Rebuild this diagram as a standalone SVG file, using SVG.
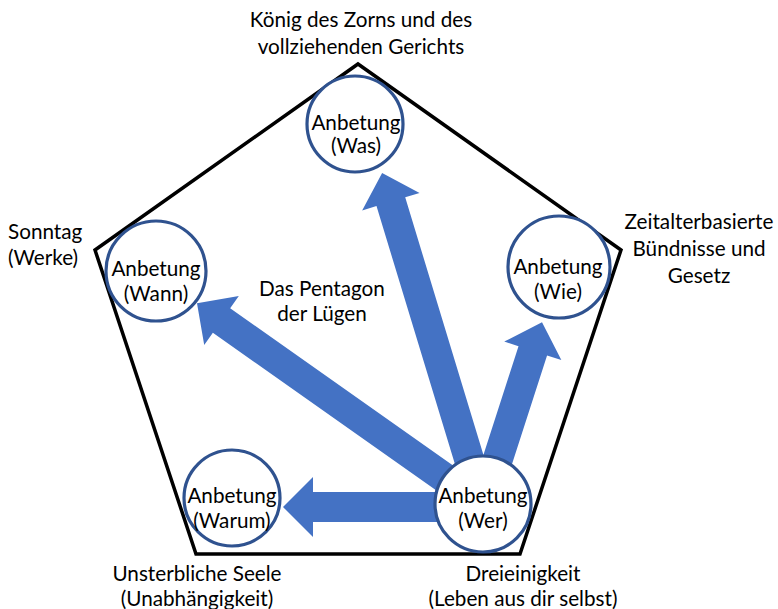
<svg xmlns="http://www.w3.org/2000/svg" width="778" height="609" viewBox="0 0 778 609">
  <style>
    .lbl { font-family: Lato, "Liberation Sans", sans-serif; font-size: 20.7px; fill: #000; }
    .mid { text-anchor: middle; }
    .node circle { fill: #fff; stroke: #2F528F; stroke-width: 3.2; }
    .arrow { fill: #4472C4; }
    .frame { fill: none; stroke: #000; stroke-width: 3.5; stroke-linejoin: miter; }
  </style>

  <!-- outer pentagon -->
  <polygon class="frame" points="358,64 621,250 520,554 196,554 95,250"/>

  <!-- corner captions -->
  <text class="lbl mid" x="361" y="27">König des Zorns und des</text>
  <text class="lbl mid" x="361" y="54">vollziehenden Gerichts</text>
  <text class="lbl" x="8" y="239">Sonntag</text>
  <text class="lbl" x="8" y="265">(Werke)</text>
  <text class="lbl mid" x="699" y="229">Zeitalterbasierte</text>
  <text class="lbl mid" x="699" y="256">Bündnisse und</text>
  <text class="lbl mid" x="699" y="283">Gesetz</text>
  <text class="lbl mid" x="197" y="581">Unsterbliche Seele</text>
  <text class="lbl mid" x="197" y="606">(Unabhängigkeit)</text>
  <text class="lbl mid" x="523" y="581">Dreieinigkeit</text>
  <text class="lbl mid" x="523" y="606">(Leben aus dir selbst)</text>
  <text class="lbl mid" x="322" y="296">Das Pentagon</text>
  <text class="lbl mid" x="322" y="321">der Lügen</text>

  <!-- connectors: block arrows from the centre node -->
  <g id="connectors">
    <polygon class="arrow" transform="translate(483,507) rotate(180)" points="0,-15 170,-15 170,-30 200,0 170,30 170,15 0,15"/>
    <polygon class="arrow" transform="translate(483,505) rotate(215.2)" points="0,-15 320,-15 320,-30 350,0 320,30 320,15 0,15"/>
    <polygon class="arrow" transform="translate(483,505) rotate(253.1)" points="0,-15 317,-15 317,-30 347,0 317,30 317,15 0,15"/>
    <polygon class="arrow" transform="translate(483,505) rotate(287.9)" points="0,-15 162,-15 162,-30 192,0 162,30 162,15 0,15"/>
  </g>

  <g id="was" class="node">
    <circle cx="355" cy="124" r="48"/>
    <text class="lbl mid" x="356" y="130">Anbetung</text>
    <text class="lbl mid" x="356" y="153">(Was)</text>
  </g>
  <g id="wann" class="node">
    <circle cx="156" cy="271" r="50"/>
    <text class="lbl mid" x="156" y="276">Anbetung</text>
    <text class="lbl mid" x="156" y="301">(Wann)</text>
  </g>
  <g id="wie" class="node">
    <circle cx="559" cy="267" r="51"/>
    <text class="lbl mid" x="558" y="274">Anbetung</text>
    <text class="lbl mid" x="558" y="299">(Wie)</text>
  </g>
  <g id="warum" class="node">
    <circle cx="232" cy="498" r="48"/>
    <text class="lbl mid" x="232" y="503">Anbetung</text>
    <text class="lbl mid" x="232" y="528">(Warum)</text>
  </g>
  <g id="wer" class="node">
    <circle cx="483" cy="504" r="48"/>
    <text class="lbl mid" x="483" y="503">Anbetung</text>
    <text class="lbl mid" x="483" y="528">(Wer)</text>
  </g>
</svg>
